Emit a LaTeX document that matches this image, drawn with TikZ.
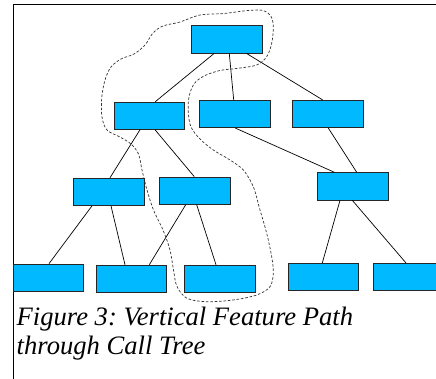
\documentclass[tikz,border=0pt]{standalone}
\usepackage{fontspec}
\setmainfont{Liberation Serif}
\newfontfamily\capfont{Liberation Serif Italic}
\usetikzlibrary{calc}
\definecolor{boxblue}{RGB}{0,185,255}
\frenchspacing
\begin{document}
\begin{tikzpicture}[x=1pt,y=1pt,
  fbox/.style={draw=black!85,line width=0.8pt,fill=boxblue,minimum width=70.6pt,minimum height=27.3pt,inner sep=0pt},
  edge/.style={draw=black,line width=0.7pt},
  blob/.style={draw=black!80,line width=0.7pt,dash pattern=on 2.6pt off 1.8pt},
  frame/.style={draw=black,line width=0.8pt},
  captext/.style={inner sep=0pt,anchor=base west,font=\capfont\fontsize{26.6}{29}\selectfont}]
\useasboundingbox (0,0) rectangle (436,-379);
\begin{scope}
\clip (0,0) rectangle (436,-379);
% frame
\coordinate (ftl) at (13.3,-4.3);
\coordinate (ftr) at (437,-4.3);
\coordinate (fbl) at (13.3,-380);
\draw[frame] (ftr) -- (ftl) -- (fbl);
% boxes
\node[fbox] (t) at (227,-39.5) {};
\node[fbox] (a) at (149.5,-115.7) {};
\node[fbox] (b) at (235,-114) {};
\node[fbox] (c) at (328,-114) {};
\node[fbox] (d) at (108.7,-191.8) {};
\node[fbox] (e) at (194.7,-190.7) {};
\node[fbox] (f) at (352.8,-186.3) {};
\node[fbox] (g1) at (48.5,-277.7) {};
\node[fbox] (g2) at (131.3,-278.8) {};
\node[fbox] (g3) at (220,-278.8) {};
\node[fbox] (g4) at (323.3,-277) {};
\node[fbox] (g5) at (409,-277) {};
% edges
\draw[edge] ($(t.south)+(-13,0)$) -- ($(a.north)+(5.8,0)$);
\draw[edge] ($(t.south)+(2.3,0)$) -- ($(b.north)+(-1.3,0)$);
\draw[edge] ($(t.south)+(19.7,0)$) -- ($(c.north)+(-5.3,0)$);
\draw[edge] ($(a.south)+(-9.5,0)$) -- ($(d.north)+(1.3,0)$);
\draw[edge] ($(a.south)+(5.5,0)$) -- ($(e.north)+(-0.4,0)$);
\draw[edge] ($(b.south)+(0.3,0)$) -- ($(f.north)+(-18.5,0)$);
\draw[edge] ($(c.south)+(0.3,0)$) -- ($(f.north)+(3.9,0)$);
\draw[edge] ($(d.south)+(-16.7,0)$) -- ($(g1.north)+(0.5,0)$);
\draw[edge] ($(d.south)+(2.3,0)$) -- ($(g2.north)+(-6.3,0)$);
\draw[edge] ($(e.south)+(-9,0)$) -- ($(g2.north)+(18,0)$);
\draw[edge] ($(e.south)+(2,0)$) -- ($(g3.north)+(-4,0)$);
\draw[edge] ($(f.south)+(-12.8,0)$) -- ($(g4.north)+(-1,0)$);
\draw[edge] ($(f.south)+(-0.5,0)$) -- ($(g5.north)+(-3,0)$);
% dashed outline of the feature path
\draw[blob] plot[smooth cycle,tension=0.55] coordinates {
 (200,-15) (180,-22) (163,-26) (153,-33) (145,-45) (134,-54) (121,-59) (111,-67)
 (105,-80) (101.7,-98) (102,-117) (107,-130) (120,-137) (131,-144) (138.5,-154)
 (142,-170) (147,-190) (153.5,-210) (163,-230) (170,-250) (173.5,-270) (177,-286.5)
 (187,-298.3) (207,-301.7) (233,-300) (256.7,-295) (270,-286.7) (273.3,-273)
 (271.7,-256.7) (266.7,-233.3) (260,-210) (253.3,-186.7) (243.3,-170) (230,-160)
 (213.3,-150) (200,-139) (191,-127) (188.3,-112) (189,-97) (194,-84) (204,-76)
 (220,-70.5) (238,-68.3) (256.7,-65) (266.7,-56.7) (271.7,-43.3) (273.3,-27)
 (271,-16.5) (263,-10.5) (248,-10.5) (224,-13.5) }; 
% caption
\node[captext] (cap1) at (16.5,-325.5) {Figure 3: Vertical Feature Path};
\node[captext] (cap2) at (16.5,-354.5) {through Call Tree};
\end{scope}
\end{tikzpicture}
\end{document}
